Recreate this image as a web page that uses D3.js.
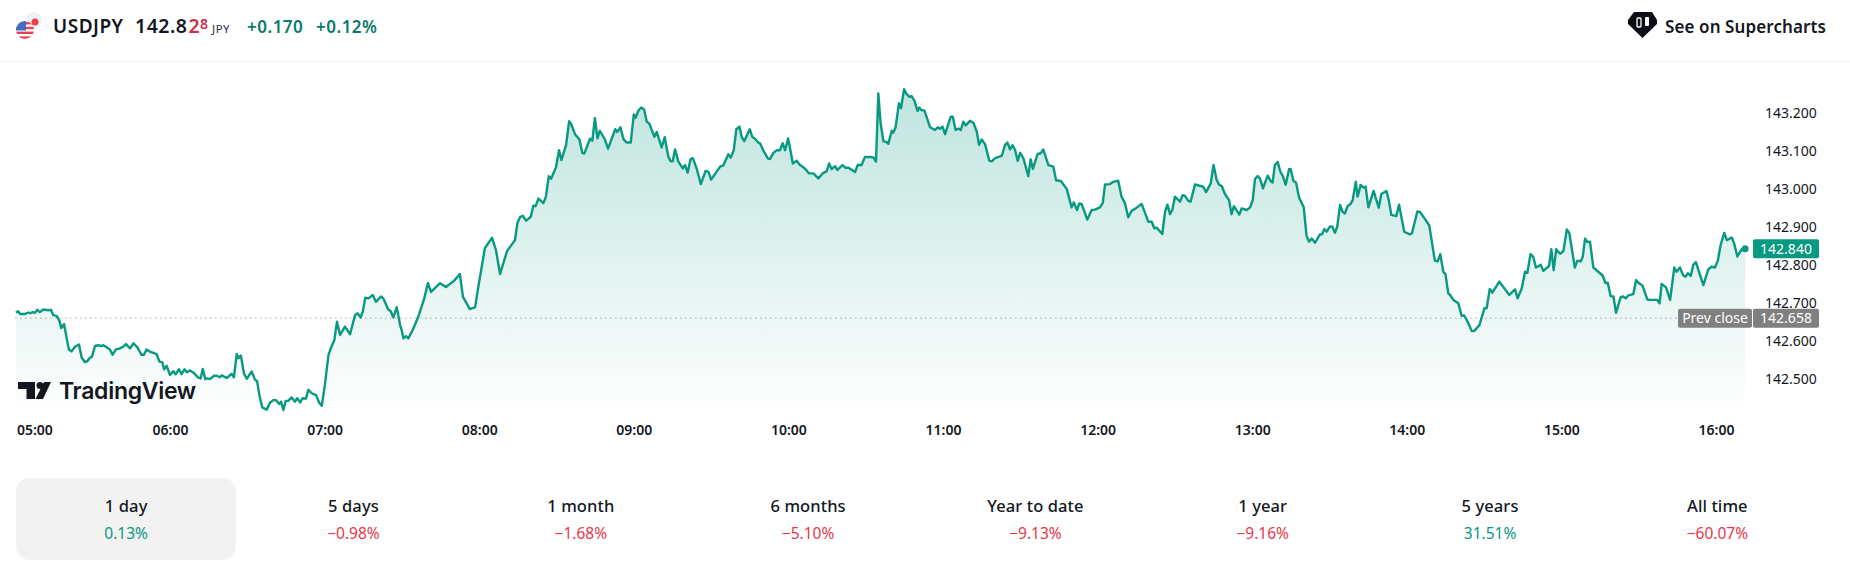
<!DOCTYPE html>
<html>
<head>
<meta charset="utf-8">
<script src="https://cdn.jsdelivr.net/npm/d3@7"></script>
<style>
  html, body { margin:0; padding:0; background:#fff; }
  svg { display:block; font-family:"Noto Sans", sans-serif; }
  .noselect { user-select:none; }
</style>
</head>
<body>
<div id="chart"></div>
<script>
// minutes after 05:00 and the price read at that moment
const minutes = [
  0.2,1.0,1.8,3.7,5.0,5.7,6.7,7.6,8.5,9.5,10.8,12.8,13.8,14.7,16.0,17.1,17.8,18.9,19.9,20.8,
  21.8,23.1,24.7,25.7,26.9,27.9,28.9,29.7,30.9,32.2,33.2,34.1,35.4,36.7,37.7,39.0,40.3,41.6,42.9,44.5,
  45.8,47.3,48.9,49.9,50.9,52.2,54.8,55.9,57.0,57.7,58.7,60.0,61.3,62.2,63.5,64.5,65.6,66.5,67.8,69.1,
  71.0,71.9,72.7,73.7,74.5,75.5,77.1,78.1,79.4,80.1,82.0,83.9,84.8,85.9,86.6,87.5,88.7,89.8,91.7,93.0,
  93.8,94.7,95.8,97.5,98.8,100.1,101.1,102.4,103.1,104.0,104.9,105.9,107.2,108.5,109.4,110.5,111.5,112.8,113.7,115.0,
  116.7,117.9,118.9,120.1,121.5,122.4,123.8,124.8,126.0,127.9,129.9,131.8,132.8,134.0,134.8,135.8,137.0,138.7,139.9,141.9,
  142.8,144.7,145.6,146.7,148.0,149.3,149.9,150.6,151.6,152.5,154.2,156.2,158.6,160.1,161.3,164.8,167.1,170.2,172.5,173.7,
  176.4,178.4,179.9,182.2,185.0,186.5,188.1,190.8,193.9,194.8,195.8,196.9,198.2,199.5,200.0,201.0,201.9,203.0,204.9,205.9,
  207.0,207.9,209.8,211.0,211.9,213.7,214.9,215.6,217.2,218.9,220.0,220.8,223.0,223.9,224.9,225.9,226.8,228.8,230.0,232.8,
  233.6,234.8,236.0,237.2,238.8,240.0,240.7,241.8,242.9,244.0,245.0,246.0,248.0,248.9,250.8,252.0,253.4,254.3,255.1,256.0,
  257.3,259.0,259.9,260.9,262.0,262.9,264.4,266.0,267.9,269.0,270.0,271.5,273.5,274.7,276.7,277.6,278.8,279.8,281.0,281.9,
  282.9,285.0,286.0,287.0,288.3,289.0,290.5,292.1,292.9,294.2,295.5,296.7,297.8,298.7,299.9,300.9,301.7,303.2,304.5,305.8,
  306.7,308.0,309.7,311.6,313.3,314.9,315.8,316.8,318.1,319.0,321.0,322.0,323.3,325.9,326.9,328.4,329.7,331.7,333.0,334.0,
  334.9,335.8,336.9,337.9,338.8,340.1,340.7,341.6,342.9,343.7,344.9,345.9,347.0,347.8,348.9,350.1,350.8,351.7,352.8,355.0,
  356.9,358.0,358.8,359.8,360.8,363.0,363.8,364.9,366.0,366.9,367.9,368.8,370.5,371.8,373.1,374.0,375.0,376.3,378.0,378.9,
  380.4,382.8,384.1,385.0,386.0,387.0,388.0,389.0,389.9,391.2,393.1,394.0,394.9,396.7,398.0,398.9,400.9,402.8,403.9,405.7,
  408.0,409.9,410.8,412.0,412.9,413.8,416.0,417.7,419.0,420.9,422.0,422.9,424.8,426.1,428.0,429.3,430.6,431.9,433.2,434.5,
  437.1,439.7,441.0,442.0,442.9,445.1,446.2,447.1,448.1,449.0,450.0,452.0,453.0,453.9,455.2,456.1,457.8,461.0,462.1,463.9,
  465.0,466.2,467.2,468.2,469.4,471.0,472.0,472.9,475.0,475.9,477.9,479.2,480.2,481.1,482.1,483.0,484.2,486.0,487.2,487.9,
  488.8,489.9,490.9,491.9,493.0,494.3,494.9,496.0,497.0,498.2,500.0,501.1,502.0,503.1,504.4,506.3,507.1,508.0,508.9,510.2,
  511.1,512.1,513.0,514.1,515.1,516.0,517.0,518.2,519.0,520.2,520.9,522.1,523.1,524.0,525.1,527.1,529.1,530.1,532.1,533.0,
  534.0,535.9,537.0,538.0,539.0,541.2,542.0,544.1,545.1,548.7,550.9,552.0,553.0,554.2,555.0,556.1,556.8,558.1,560.0,561.3,
  562.3,563.9,565.2,566.1,568.2,570.1,571.0,572.2,573.2,575.9,579.8,582.0,583.0,584.6,585.9,586.8,588.0,589.1,590.1,592.0,
  593.0,595.2,596.1,597.0,598.0,599.5,600.8,602.1,603.1,605.2,606.2,607.5,608.3,609.2,610.1,611.1,612.4,614.3,616.0,617.1,
  618.0,619.1,620.2,621.2,623.0,624.0,625.0,626.0,627.9,629.0,629.9,631.5,633.4,634.4,637.2,638.1,638.9,640.6,642.2,643.8,
  644.7,646.0,647.3,648.2,649.1,650.2,651.2,652.2,653.8,655.1,657.0,658.3,659.6,660.7,661.8,663.2,664.2,666.1,667.0,668.3,
  670.0,671.3
];
const prices = [
  142.673,142.676,142.669,142.669,142.673,142.671,142.674,142.672,142.680,142.674,142.681,142.679,142.680,142.666,142.664,142.651,142.632,142.643,142.605,142.575,
  142.571,142.583,142.589,142.555,142.543,142.545,142.554,142.557,142.585,142.587,142.585,142.587,142.582,142.576,142.562,142.576,142.578,142.582,142.590,142.579,
  142.592,142.582,142.562,142.562,142.576,142.570,142.564,142.544,142.542,142.524,142.533,142.509,142.519,142.511,142.524,142.511,142.524,142.516,142.521,142.515,
  142.502,142.500,142.525,142.498,142.500,142.498,142.507,142.507,142.503,142.508,142.501,142.512,142.503,142.564,142.553,142.560,142.513,142.499,142.518,142.496,
  142.493,142.456,142.424,142.418,142.436,142.443,142.443,142.433,142.439,142.417,142.441,142.441,142.450,142.439,142.448,142.437,142.448,142.447,142.470,142.461,
  142.456,142.436,142.428,142.483,142.561,142.579,142.601,142.649,142.614,142.636,142.616,142.666,142.671,142.660,142.675,142.712,142.710,142.719,142.701,142.715,
  142.710,142.681,142.677,142.660,142.687,142.640,142.627,142.605,142.611,142.605,142.627,142.659,142.708,142.750,142.727,142.750,142.740,142.756,142.774,142.714,
  142.682,142.687,142.750,142.842,142.869,142.837,142.774,142.834,142.863,142.907,142.923,142.927,142.914,142.921,142.924,142.953,142.952,142.972,142.960,142.977,
  143.031,143.024,143.054,143.099,143.073,143.112,143.175,143.169,143.141,143.127,143.092,143.090,143.129,143.124,143.183,143.130,143.150,143.127,143.103,143.154,
  143.147,143.159,143.128,143.119,143.119,143.193,143.184,143.203,143.211,143.206,143.174,143.169,143.134,143.147,143.106,143.133,143.082,143.070,143.070,143.101,
  143.069,143.051,143.060,143.040,143.075,143.078,143.051,143.010,143.045,143.042,143.022,143.036,143.056,143.059,143.088,143.080,143.099,143.154,143.161,143.133,
  143.123,143.154,143.134,143.129,143.119,143.117,143.095,143.077,143.076,143.092,143.099,143.099,143.117,143.099,143.130,143.095,143.064,143.071,143.060,143.054,
  143.049,143.038,143.038,143.025,143.038,143.044,143.064,143.049,143.057,143.047,143.060,143.053,143.053,143.042,143.060,143.060,143.081,143.081,143.080,143.069,
  143.248,143.169,143.122,143.121,143.116,143.150,143.145,143.159,143.222,143.209,143.259,143.246,143.239,143.241,143.229,143.202,143.211,143.204,143.203,143.159,
  143.152,143.159,143.155,143.161,143.141,143.187,143.187,143.152,143.156,143.152,143.174,143.164,143.176,143.171,143.148,143.113,143.127,143.115,143.071,143.070,
  143.079,143.084,143.113,143.119,143.101,143.112,143.099,143.071,143.092,143.078,143.031,143.075,143.050,143.089,143.091,143.101,143.060,143.056,143.020,143.018,
  142.998,142.949,142.962,142.942,142.959,142.958,142.917,142.942,142.943,142.949,142.960,143.009,143.010,143.016,143.019,142.977,142.960,142.923,142.940,142.945,
  142.958,142.911,142.911,142.894,142.896,142.879,142.938,142.956,142.931,142.942,142.977,142.964,142.981,142.979,142.966,142.964,143.009,143.003,142.989,143.012,
  143.060,143.021,143.008,143.005,142.984,142.968,142.931,142.952,142.930,142.946,142.942,142.949,142.968,143.024,143.031,143.025,142.999,143.032,143.018,143.014,
  143.060,143.068,143.043,143.031,143.008,143.049,143.050,143.018,143.014,142.975,142.949,142.874,142.859,142.867,142.856,142.878,142.878,142.892,142.885,142.899,
  142.898,142.882,142.898,142.955,142.937,142.933,142.952,142.958,142.968,143.016,142.977,143.008,143.001,143.003,142.949,142.992,142.948,142.984,142.992,142.968,
  142.929,142.926,142.956,142.920,142.885,142.878,142.881,142.938,142.937,142.902,142.809,142.807,142.826,142.779,142.774,142.723,142.719,142.706,142.697,142.664,
  142.665,142.645,142.624,142.624,142.640,142.684,142.684,142.735,142.725,142.754,142.719,142.734,142.710,142.736,142.780,142.777,142.826,142.819,142.791,142.798,
  142.782,142.795,142.839,142.784,142.839,142.827,142.835,142.891,142.881,142.791,142.809,142.807,142.820,142.867,142.858,142.859,142.791,142.780,142.770,142.750,
  142.751,142.716,142.715,142.672,142.713,142.715,142.710,142.718,142.721,142.758,142.751,142.743,142.707,142.706,142.706,142.697,142.748,142.739,142.706,142.791,
  142.780,142.791,142.770,142.767,142.776,142.769,142.798,142.805,142.771,142.745,142.786,142.793,142.791,142.809,142.850,142.882,142.863,142.870,142.855,142.820,
  142.839,142.840
];
const lastPrice = 142.840;
const prevClose = 142.658;

const priceTicks = [142.5, 142.6, 142.7, 142.8, 142.9, 143.0, 143.1, 143.2];
const hourTicks = [0, 60, 120, 180, 240, 300, 360, 420, 480, 540, 600, 660];
const hourLabels = ["05:00","06:00","07:00","08:00","09:00","10:00","11:00","12:00","13:00","14:00","15:00","16:00"];

const periods = ["1 day","5 days","1 month","6 months","Year to date","1 year","5 years","All time"];
const periodReturns = ["0.13%","\u22120.98%","\u22121.68%","\u22125.10%","\u22129.13%","\u22129.16%","31.51%","\u221260.07%"];

const GREEN = "#089981", RED = "#e5384b", INK = "#131722", TEAL = "#0b7a6b";
const FONT = '"Noto Sans", sans-serif';

let svg = d3.select("#chart").append("svg")
  .attr("width", 1850).attr("height", 570)
  .classed("noselect", true);

let x = d3.scaleLinear().domain([0, 60]).range([15.4, 170]);
let y = d3.scaleLinear().domain([142.9, 142.8]).range([226, 264.1]);

// header strip
function headerText(str, xpos, size, color, weight=600, ypos=33, spacing=0.5) {
  return svg.append("text")
    .attr("x", xpos).attr("y", ypos)
    .attr("font-size", size).attr("font-weight", weight)
    .attr("letter-spacing", spacing)
    .attr("fill", color).text(str);
}
svg.append("line")
  .attr("x1", 0).attr("x2", 1850).attr("y1", 61.5).attr("y2", 61.5)
  .attr("stroke", "#f0f3fa");

let flags = svg.append("g");
flags.append("circle").attr("cx", 34).attr("cy", 20).attr("r", 8).attr("fill", "#f0f0f6");
flags.append("circle").attr("cx", 35).attr("cy", 22).attr("r", 3.5).attr("fill", "#e8404c");
let defs = svg.append("defs");
defs.append("clipPath").attr("id", "usflag")
  .append("circle").attr("cx", 25).attr("cy", 30).attr("r", 9);
let us = flags.append("g").attr("clip-path", "url(#usflag)");
us.append("rect").attr("x", 16).attr("y", 21).attr("width", 18).attr("height", 18).attr("fill", "#fff");
d3.range(4).forEach(i => {
  us.append("rect").attr("x", 16).attr("y", 22 + i * 4.8).attr("width", 18).attr("height", 2.4).attr("fill", "#e8404c");
});
us.append("rect").attr("x", 16).attr("y", 21).attr("width", 10).attr("height", 9.5).attr("fill", "#3f6cc4");

headerText("USDJPY", 53, 19, INK);
headerText("142.8", 135, 19.5, INK);
headerText("2", 188.5, 19.5, "#c8324a");
headerText("8", 200, 14, "#c8324a", 600, 29);
headerText("JPY", 212, 11.5, "#2a2e39", 400);
headerText("+0.170", 247, 17, TEAL);
headerText("+0.12%", 316, 17, TEAL);

// supercharts badge, white candles on a black gem
let badge = svg.append("g").attr("transform", "translate(1628,12)");
badge.append("path").attr("d", "M6,0H24L29,8V12L14.5,26L0,12V8Z").attr("fill", "#0c0e15");
badge.append("rect").attr("x", 9).attr("y", 6).attr("width", 4).attr("height", 9).attr("rx", 1).attr("fill", "none").attr("stroke", "#fff").attr("stroke-width", 1.3);
badge.append("rect").attr("x", 17).attr("y", 5).attr("width", 4).attr("height", 9).attr("rx", 1).attr("fill", "#fff");
headerText("See on Supercharts", 1665, 17, INK, 600, 33, 0.1);

// price area
let grad = defs.append("linearGradient").attr("id", "areafill")
  .attr("gradientUnits", "userSpaceOnUse")
  .attr("x1", 0).attr("x2", 0).attr("y1", 90).attr("y2", 415);
grad.append("stop").attr("offset", 0).attr("stop-color", GREEN).attr("stop-opacity", 0.26);
grad.append("stop").attr("offset", 1).attr("stop-color", GREEN).attr("stop-opacity", 0);

let quotes = minutes.map((m, i) => [m, prices[i]]);
let area = d3.area().x(d => x(d[0])).y1(d => y(d[1])).y0(415);
let line = d3.line().x(d => x(d[0])).y(d => y(d[1]));

svg.append("path").datum(quotes).attr("d", area).attr("fill", "url(#areafill)");

svg.append("line")
  .attr("x1", x(0)).attr("x2", 1678)
  .attr("y1", y(prevClose)).attr("y2", y(prevClose))
  .attr("stroke", "#787b86").attr("stroke-width", 1).attr("stroke-dasharray", "1 4");

// watermark
let mark = svg.append("g").attr("transform", "translate(18,382)");
mark.append("path").attr("d", "M0,0H17V17H8.5V7H0Z").attr("fill", INK);
mark.append("circle").attr("cx", 22).attr("cy", 3.5).attr("r", 3.5).attr("fill", INK);
mark.append("path").attr("d", "M26,0H33L25,17H17.5Z").attr("fill", INK);
svg.append("text").attr("x", 59).attr("y", 399)
  .attr("font-family", "Inter, sans-serif").attr("font-size", 23).attr("font-weight", 600)
  .attr("letter-spacing", -0.3).attr("fill", INK).text("TradingView");

svg.append("path").datum(quotes).attr("d", line)
  .attr("fill", "none").attr("stroke", GREEN).attr("stroke-width", 2.4).attr("stroke-linejoin", "round");
svg.append("circle").attr("cx", x(minutes[minutes.length - 1])).attr("cy", y(lastPrice)).attr("r", 3.5).attr("fill", GREEN);

// axes
let xAxis = d3.axisBottom(x).tickValues(hourTicks).tickSize(0).tickPadding(0)
  .tickFormat((d, i) => hourLabels[i]);
let gx = svg.append("g").attr("transform", "translate(0,422)").call(xAxis)
  .attr("font-family", FONT);
gx.select(".domain").remove();
gx.selectAll("text")
  .attr("font-size", 14).attr("font-weight", 600).attr("fill", INK)
  .attr("dy", "0.9em");
gx.selectAll(".tick").filter(d => d == 0).select("text").attr("text-anchor", "start").attr("x", 1);

let yAxis = d3.axisRight(y).tickValues(priceTicks).tickSize(0).tickPadding(0)
  .tickFormat(d3.format(".3f"));
let gy = svg.append("g").attr("transform", "translate(1765,1)").call(yAxis)
  .attr("font-family", FONT);
gy.select(".domain").remove();
gy.selectAll("text")
  .attr("font-size", 14).attr("fill", INK);

// price tags
function priceTag(xpos, width, value, fill, str) {
  let h = 19;
  svg.append("rect")
    .attr("x", xpos).attr("y", y(value) - h / 2)
    .attr("width", width).attr("height", h).attr("rx", 2).attr("fill", fill);
  svg.append("text")
    .attr("x", xpos + width / 2).attr("y", y(value) + 5)
    .attr("text-anchor", "middle").attr("font-size", 14).attr("fill", "#fff").text(str);
}
priceTag(1753, 66, lastPrice, GREEN, d3.format(".3f")(lastPrice));
priceTag(1678, 74, prevClose, "#808080", "Prev close");
priceTag(1753, 66, prevClose, "#808080", d3.format(".3f")(prevClose));

// period switcher
let cols = d3.scaleBand().domain(periods).range([12.5, 1831]);
svg.append("rect")
  .attr("x", 16).attr("y", 478).attr("width", 220).attr("height", 82).attr("rx", 14)
  .attr("fill", "#f2f2f2");
periods.forEach((p, i) => {
  let cx = cols(p) + cols.bandwidth() / 2;
  svg.append("text")
    .attr("x", cx).attr("y", 512).attr("text-anchor", "middle")
    .attr("font-size", 16.5).attr("font-weight", 500).attr("letter-spacing", 0.1)
    .attr("fill", INK).text(p);
  svg.append("text")
    .attr("x", cx).attr("y", 539).attr("text-anchor", "middle")
    .attr("font-size", 15.5)
    .attr("fill", periodReturns[i][0] == "\u2212" ? RED : GREEN)
    .text(periodReturns[i]);
});
</script>
</body>
</html>
